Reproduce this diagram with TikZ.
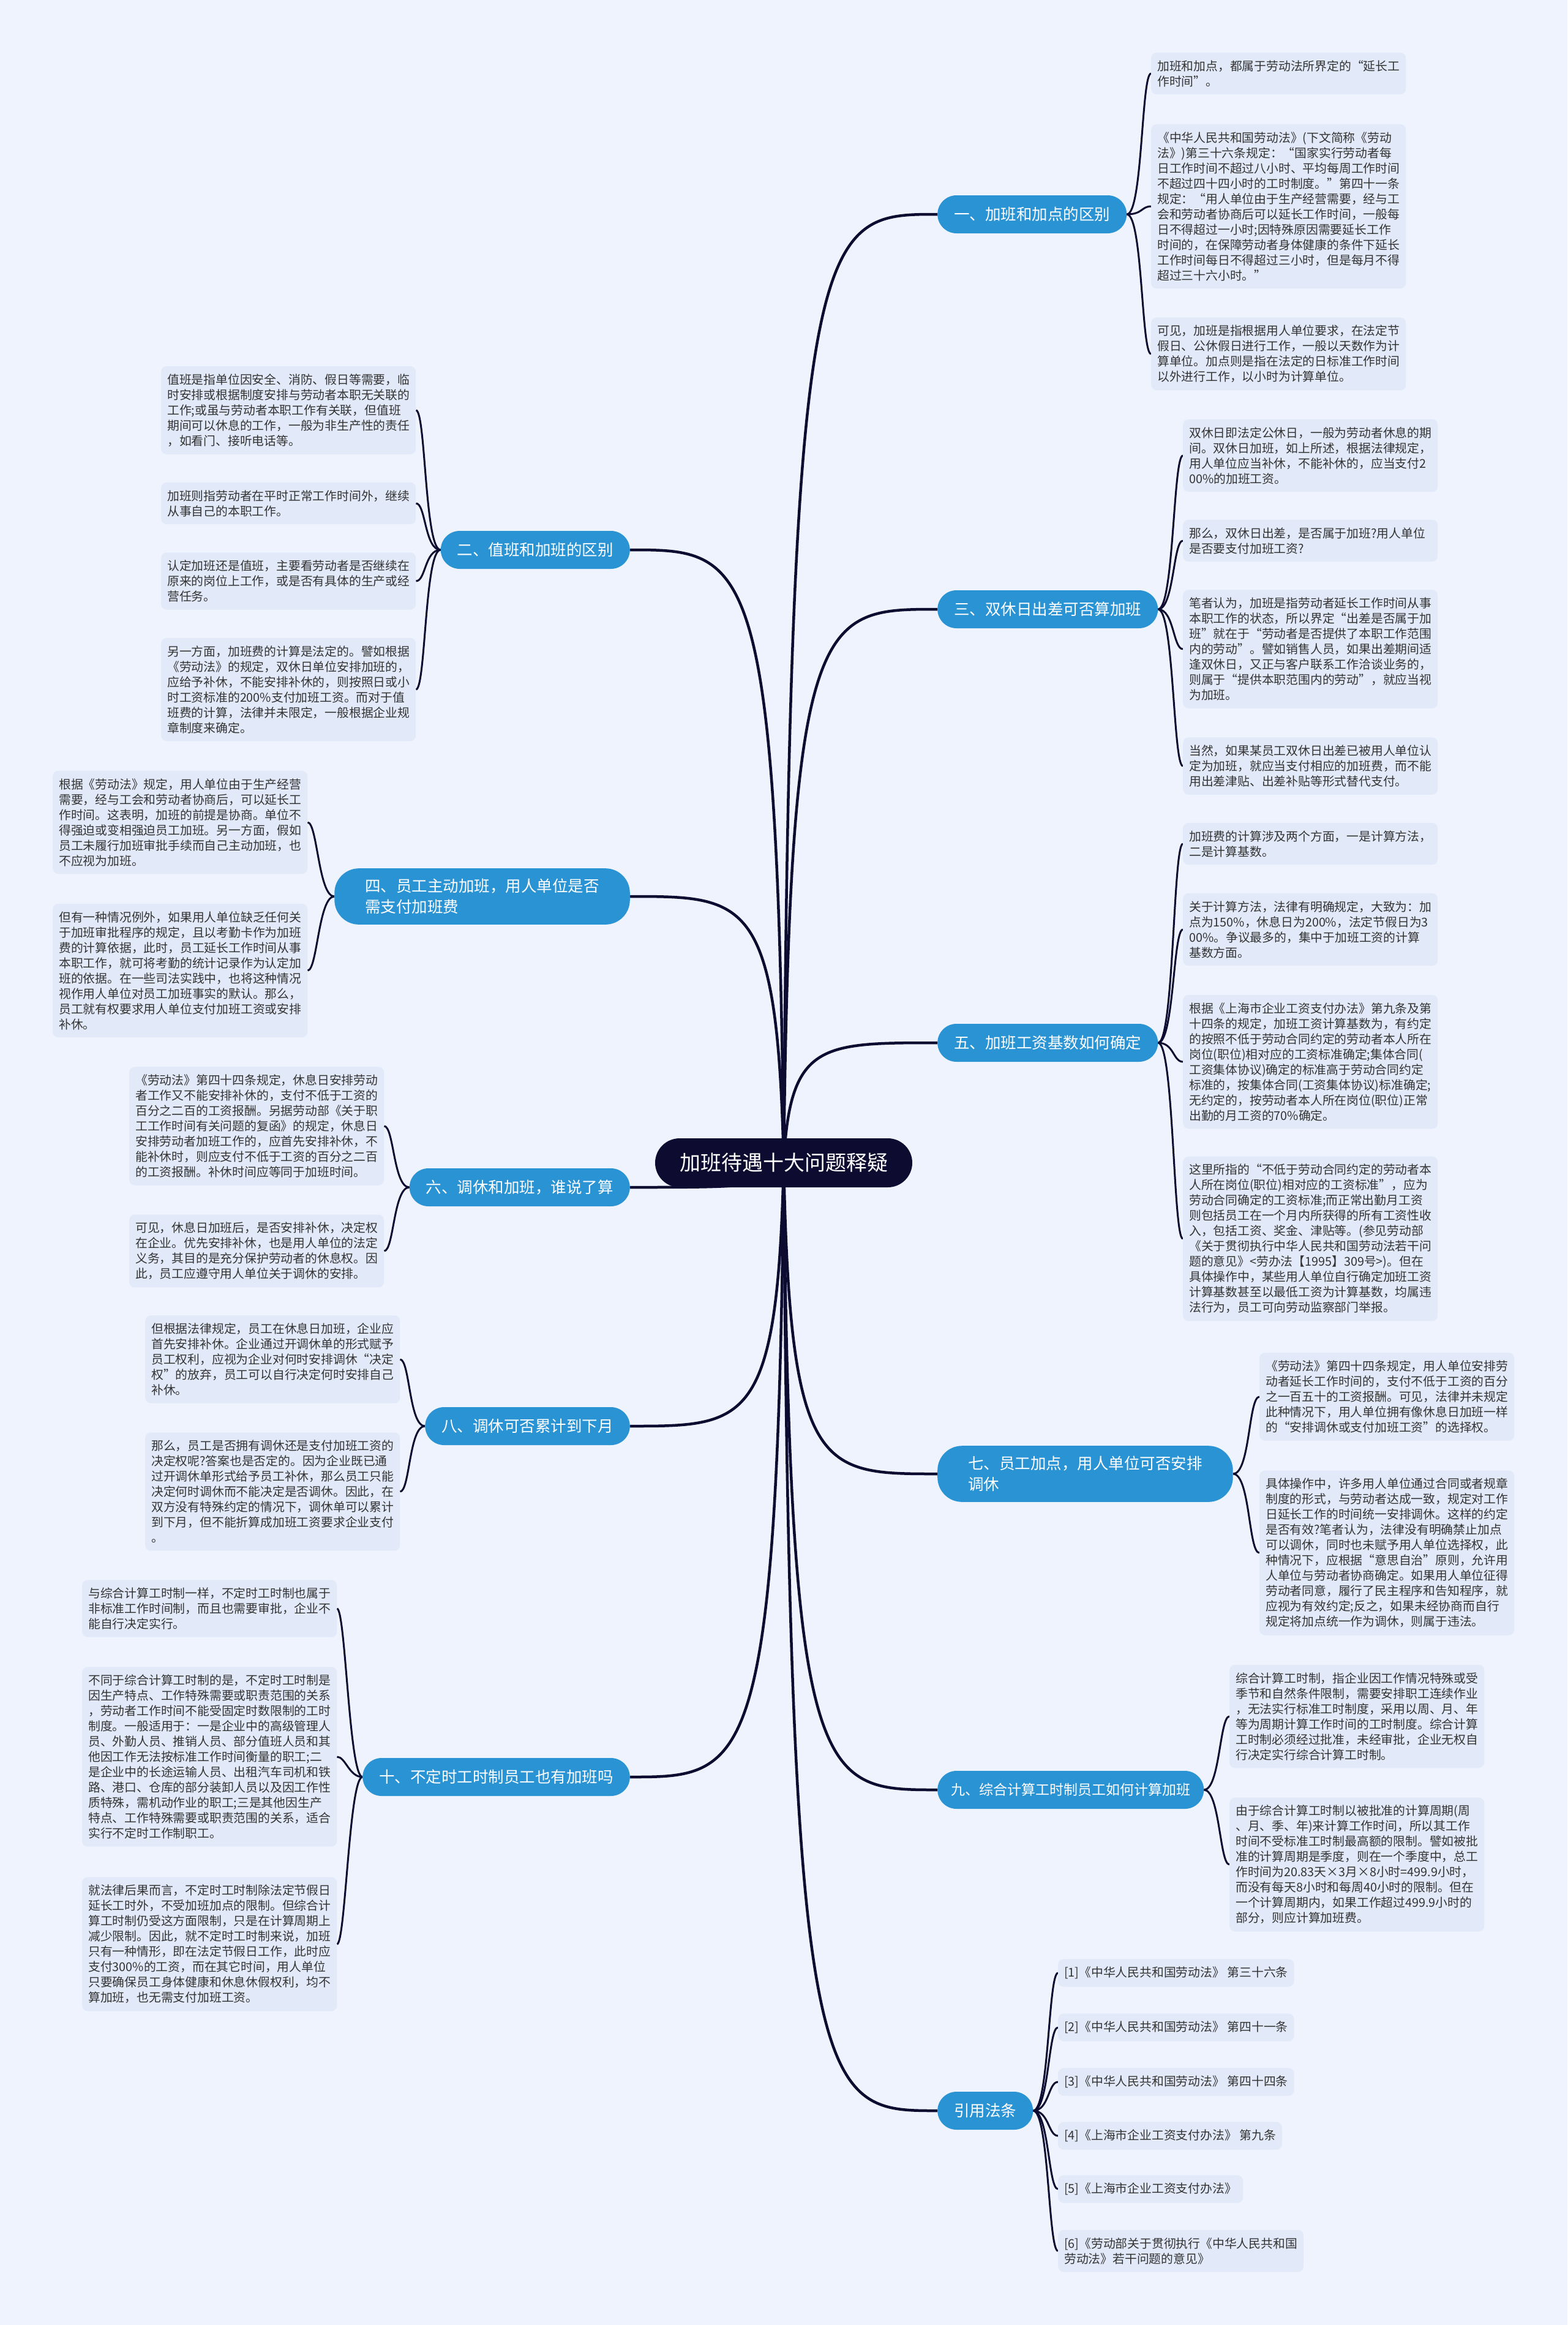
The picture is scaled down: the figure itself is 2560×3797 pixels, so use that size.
\documentclass[tikz,border=0pt]{standalone}
\usepackage{fontspec}
\newfontfamily\cjk{Noto Sans CJK SC}
\usetikzlibrary{backgrounds,calc}
\definecolor{pagebg}{HTML}{EEF3FD}
\definecolor{leafbg}{HTML}{E2EAF9}
\definecolor{branchbg}{HTML}{2A93D4}
\definecolor{hubbg}{HTML}{0E0B30}
\definecolor{linecol}{HTML}{0E0B30}
\definecolor{textcol}{HTML}{333333}
\tikzset{
  leafbase/.style={fill=leafbg, rounded corners=9pt, anchor=west, align=left,
    inner xsep=10pt, inner ysep=12.5pt, text=textcol,
    font=\cjk\fontsize{19.8}{25}\selectfont},
  leafbox/.style={leafbase, text width=396pt},
  branchbox/.style={fill=branchbg, text=white, rounded corners=31pt, align=left,
    inner xsep=27pt, inner ysep=17pt, minimum height=62pt,
    font=\cjk\fontsize{25.5}{34}\selectfont},
  twoline/.style={inner xsep=50pt, rounded corners=40pt},
  hubbox/.style={fill=hubbg, text=white, rounded corners=40pt, inner xsep=40pt,
    minimum height=80pt, font=\cjk\fontsize{34}{40}\selectfont},
  mainline/.style={draw=linecol, line width=4.5pt},
  leafline/.style={draw=linecol, line width=3pt},
}
\begin{document}
\begin{tikzpicture}[x=1pt, y=-1pt]
\useasboundingbox (0,0) rectangle (2560,3797);
% centre
\node[hubbox, at={(1280,1899)}] (hub) {加班待遇十大问题释疑};
% branches, right side
\node[branchbox, anchor=west, at={(1531,350)}] (b1) {一、加班和加点的区别};
\node[branchbox, anchor=west, at={(1531,995)}] (b3) {三、双休日出差可否算加班};
\node[branchbox, anchor=west, at={(1531,1703)}] (b5) {五、加班工资基数如何确定};
\node[branchbox, twoline, anchor=west, at={(1531,2407)}] (b7) {七、员工加点，用人单位可否安排\\调休};
\node[branchbox, anchor=west, at={(1531,2923)}, inner xsep=22pt, font=\cjk\fontsize{23}{30}\selectfont] (b9) {九、综合计算工时制员工如何计算加班};
\node[branchbox, anchor=west, at={(1531,3447)}] (bref) {引用法条};
% branches, left side
\node[branchbox, anchor=east, at={(1029,898)}] (b2) {二、值班和加班的区别};
\node[branchbox, twoline, anchor=east, at={(1029,1464)}] (b4) {四、员工主动加班，用人单位是否\\需支付加班费};
\node[branchbox, anchor=east, at={(1029,1939)}] (b6) {六、调休和加班，谁说了算};
\node[branchbox, anchor=east, at={(1029,2329)}] (b8) {八、调休可否累计到下月};
\node[branchbox, anchor=east, at={(1029,2902)}] (b10) {十、不定时工时制员工也有加班吗};

% leaves of b1
\node[leafbox, at={(1880,120)}] (l1a) {加班和加点，都属于劳动法所界定的“延长工\\作时间”。};
\node[leafbox, at={(1880,337)}] (l1b) {《中华人民共和国劳动法》(下文简称《劳动\\法》)第三十六条规定：“国家实行劳动者每\\日工作时间不超过八小时、平均每周工作时间\\不超过四十四小时的工时制度。”第四十一条\\规定：“用人单位由于生产经营需要，经与工\\会和劳动者协商后可以延长工作时间，一般每\\日不得超过一小时;因特殊原因需要延长工作\\时间的，在保障劳动者身体健康的条件下延长\\工作时间每日不得超过三小时，但是每月不得\\超过三十六小时。”};
\node[leafbox, at={(1880,578)}] (l1c) {可见，加班是指根据用人单位要求，在法定节\\假日、公休假日进行工作，一般以天数作为计\\算单位。加点则是指在法定的日标准工作时间\\以外进行工作，以小时为计算单位。};
% leaves of b2
\node[leafbox, at={(263,670)}] (l2a) {值班是指单位因安全、消防、假日等需要，临\\时安排或根据制度安排与劳动者本职无关联的\\工作;或虽与劳动者本职工作有关联，但值班\\期间可以休息的工作，一般为非生产性的责任\\，如看门、接听电话等。};
\node[leafbox, at={(263,822)}] (l2b) {加班则指劳动者在平时正常工作时间外，继续\\从事自己的本职工作。};
\node[leafbox, at={(263,949)}] (l2c) {认定加班还是值班，主要看劳动者是否继续在\\原来的岗位上工作，或是否有具体的生产或经\\营任务。};
\node[leafbox, at={(263,1126)}] (l2d) {另一方面，加班费的计算是法定的。譬如根据\\《劳动法》的规定，双休日单位安排加班的，\\应给予补休，不能安排补休的，则按照日或小\\时工资标准的200\%支付加班工资。而对于值\\班费的计算，法律并未限定，一般根据企业规\\章制度来确定。};
% leaves of b3
\node[leafbox, at={(1932,744)}] (l3a) {双休日即法定公休日，一般为劳动者休息的期\\间。双休日加班，如上所述，根据法律规定，\\用人单位应当补休，不能补休的，应当支付2\\00\%的加班工资。};
\node[leafbox, at={(1932,883)}] (l3b) {那么，双休日出差，是否属于加班?用人单位\\是否要支付加班工资?};
\node[leafbox, at={(1932,1060)}] (l3c) {笔者认为，加班是指劳动者延长工作时间从事\\本职工作的状态，所以界定“出差是否属于加\\班”就在于“劳动者是否提供了本职工作范围\\内的劳动”。譬如销售人员，如果出差期间适\\逢双休日，又正与客户联系工作洽谈业务的，\\则属于“提供本职范围内的劳动”，就应当视\\为加班。};
\node[leafbox, at={(1932,1251)}] (l3d) {当然，如果某员工双休日出差已被用人单位认\\定为加班，就应当支付相应的加班费，而不能\\用出差津贴、出差补贴等形式替代支付。};
% leaves of b4
\node[leafbox, at={(86,1343)}] (l4a) {根据《劳动法》规定，用人单位由于生产经营\\需要，经与工会和劳动者协商后，可以延长工\\作时间。这表明，加班的前提是协商。单位不\\得强迫或变相强迫员工加班。另一方面，假如\\员工未履行加班审批手续而自己主动加班，也\\不应视为加班。};
\node[leafbox, at={(86,1585)}] (l4b) {但有一种情况例外，如果用人单位缺乏任何关\\于加班审批程序的规定，且以考勤卡作为加班\\费的计算依据，此时，员工延长工作时间从事\\本职工作，就可将考勤的统计记录作为认定加\\班的依据。在一些司法实践中，也将这种情况\\视作用人单位对员工加班事实的默认。那么，\\员工就有权要求用人单位支付加班工资或安排\\补休。};
% leaves of b5
\node[leafbox, at={(1932,1378)}] (l5a) {加班费的计算涉及两个方面，一是计算方法，\\二是计算基数。};
\node[leafbox, at={(1932,1518)}] (l5b) {关于计算方法，法律有明确规定，大致为：加\\点为150\%，休息日为200\%，法定节假日为3\\00\%。争议最多的，集中于加班工资的计算\\基数方面。};
\node[leafbox, at={(1932,1734)}] (l5c) {根据《上海市企业工资支付办法》第九条及第\\十四条的规定，加班工资计算基数为，有约定\\的按照不低于劳动合同约定的劳动者本人所在\\岗位(职位)相对应的工资标准确定;集体合同(\\工资集体协议)确定的标准高于劳动合同约定\\标准的，按集体合同(工资集体协议)标准确定;\\无约定的，按劳动者本人所在岗位(职位)正常\\出勤的月工资的70\%确定。};
\node[leafbox, at={(1932,2023)}] (l5d) {这里所指的“不低于劳动合同约定的劳动者本\\人所在岗位(职位)相对应的工资标准”，应为\\劳动合同确定的工资标准;而正常出勤月工资\\则包括员工在一个月内所获得的所有工资性收\\入，包括工资、奖金、津贴等。(参见劳动部\\《关于贯彻执行中华人民共和国劳动法若干问\\题的意见》<劳办法【1995】309号>)。但在\\具体操作中，某些用人单位自行确定加班工资\\计算基数甚至以最低工资为计算基数，均属违\\法行为，员工可向劳动监察部门举报。};
% leaves of b6
\node[leafbox, at={(211,1839)}] (l6a) {《劳动法》第四十四条规定，休息日安排劳动\\者工作又不能安排补休的，支付不低于工资的\\百分之二百的工资报酬。另据劳动部《关于职\\工工作时间有关问题的复函》的规定，休息日\\安排劳动者加班工作的，应首先安排补休，不\\能补休时，则应支付不低于工资的百分之二百\\的工资报酬。补休时间应等同于加班时间。};
\node[leafbox, at={(211,2043)}] (l6b) {可见，休息日加班后，是否安排补休，决定权\\在企业。优先安排补休，也是用人单位的法定\\义务，其目的是充分保护劳动者的休息权。因\\此，员工应遵守用人单位关于调休的安排。};
% leaves of b7
\node[leafbox, at={(2057,2281)}] (l7a) {《劳动法》第四十四条规定，用人单位安排劳\\动者延长工作时间的，支付不低于工资的百分\\之一百五十的工资报酬。可见，法律并未规定\\此种情况下，用人单位拥有像休息日加班一样\\的“安排调休或支付加班工资”的选择权。};
\node[leafbox, at={(2057,2536)}] (l7b) {具体操作中，许多用人单位通过合同或者规章\\制度的形式，与劳动者达成一致，规定对工作\\日延长工作的时间统一安排调休。这样的约定\\是否有效?笔者认为，法律没有明确禁止加点\\可以调休，同时也未赋予用人单位选择权，此\\种情况下，应根据“意思自治”原则，允许用\\人单位与劳动者协商确定。如果用人单位征得\\劳动者同意，履行了民主程序和告知程序，就\\应视为有效约定;反之，如果未经协商而自行\\规定将加点统一作为调休，则属于违法。};
% leaves of b8
\node[leafbox, at={(237,2220)}] (l8a) {但根据法律规定，员工在休息日加班，企业应\\首先安排补休。企业通过开调休单的形式赋予\\员工权利，应视为企业对何时安排调休“决定\\权”的放弃，员工可以自行决定何时安排自己\\补休。};
\node[leafbox, at={(237,2436)}] (l8b) {那么，员工是否拥有调休还是支付加班工资的\\决定权呢?答案也是否定的。因为企业既已通\\过开调休单形式给予员工补休，那么员工只能\\决定何时调休而不能决定是否调休。因此，在\\双方没有特殊约定的情况下，调休单可以累计\\到下月，但不能折算成加班工资要求企业支付\\。};
% leaves of b9
\node[leafbox, at={(2008,2803)}] (l9a) {综合计算工时制，指企业因工作情况特殊或受\\季节和自然条件限制，需要安排职工连续作业\\，无法实行标准工时制度，采用以周、月、年\\等为周期计算工作时间的工时制度。综合计算\\工时制必须经过批准，未经审批，企业无权自\\行决定实行综合计算工时制。};
\node[leafbox, at={(2008,3045)}] (l9b) {由于综合计算工时制以被批准的计算周期(周\\、月、季、年)来计算工作时间，所以其工作\\时间不受标准工时制最高额的限制。譬如被批\\准的计算周期是季度，则在一个季度中，总工\\作时间为20.83天×3月×8小时=499.9小时，\\而没有每天8小时和每周40小时的限制。但在\\一个计算周期内，如果工作超过499.9小时的\\部分，则应计算加班费。};
% leaves of b10
\node[leafbox, at={(134,2627)}] (l10a) {与综合计算工时制一样，不定时工时制也属于\\非标准工作时间制，而且也需要审批，企业不\\能自行决定实行。};
\node[leafbox, at={(134,2869)}] (l10b) {不同于综合计算工时制的是，不定时工时制是\\因生产特点、工作特殊需要或职责范围的关系\\，劳动者工作时间不能受固定时数限制的工时\\制度。一般适用于：一是企业中的高级管理人\\员、外勤人员、推销人员、部分值班人员和其\\他因工作无法按标准工作时间衡量的职工;二\\是企业中的长途运输人员、出租汽车司机和铁\\路、港口、仓库的部分装卸人员以及因工作性\\质特殊，需机动作业的职工;三是其他因生产\\特点、工作特殊需要或职责范围的关系，适合\\实行不定时工作制职工。};
\node[leafbox, at={(134,3175)}] (l10c) {就法律后果而言，不定时工时制除法定节假日\\延长工时外，不受加班加点的限制。但综合计\\算工时制仍受这方面限制，只是在计算周期上\\减少限制。因此，就不定时工时制来说，加班\\只有一种情形，即在法定节假日工作，此时应\\支付300\%的工资，而在其它时间，用人单位\\只要确保员工身体健康和休息休假权利，均不\\算加班，也无需支付加班工资。};
% references
\node[leafbase, at={(1728,3222)}] (r1) {[1]《中华人民共和国劳动法》 第三十六条};
\node[leafbase, at={(1728,3311)}] (r2) {[2]《中华人民共和国劳动法》 第四十一条};
\node[leafbase, at={(1728,3400)}] (r3) {[3]《中华人民共和国劳动法》 第四十四条};
\node[leafbase, at={(1728,3488)}] (r4) {[4]《上海市企业工资支付办法》 第九条};
\node[leafbase, at={(1728,3575)}] (r5) {[5]《上海市企业工资支付办法》};
\node[leafbase, at={(1728,3676)}] (r6) {[6]《劳动部关于贯彻执行《中华人民共和国\\劳动法》若干问题的意见》};

\begin{pgfonlayer}{background}
\fill[pagebg] (0,0) rectangle (2560,3797);
% centre to branches
\foreach \b in {b1,b3,b5,b7,b9,bref}
  \draw[mainline] (hub.center) .. controls ($(hub.center |- \b.west)+(10,0)$) and ($(hub.center |- \b.west)+(60,0)$) .. (\b.west);
\foreach \b in {b2,b4,b6,b8,b10}
  \draw[mainline] (hub.center) .. controls ($(hub.center |- \b.east)+(-10,0)$) and ($(hub.center |- \b.east)+(-60,0)$) .. (\b.east);
% branches to leaves, right
\foreach \l in {l1a,l1b,l1c}
  \draw[leafline] (b1.east) .. controls +(26,0) and +(-16,0) .. (\l.west);
\foreach \l in {l3a,l3b,l3c,l3d}
  \draw[leafline] (b3.east) .. controls +(26,0) and +(-16,0) .. (\l.west);
\foreach \l in {l5a,l5b,l5c,l5d}
  \draw[leafline] (b5.east) .. controls +(26,0) and +(-16,0) .. (\l.west);
\foreach \l in {l7a,l7b}
  \draw[leafline] (b7.east) .. controls +(28,0) and +(-18,0) .. (\l.west);
\foreach \l in {l9a,l9b}
  \draw[leafline] (b9.east) .. controls +(26,0) and +(-16,0) .. (\l.west);
\foreach \l in {r1,r2,r3,r4,r5,r6}
  \draw[leafline] (bref.east) .. controls +(26,0) and +(-16,0) .. (\l.west);
% branches to leaves, left
\foreach \l in {l2a,l2b,l2c,l2d}
  \draw[leafline] (b2.west) .. controls +(-26,0) and +(16,0) .. (\l.east);
\foreach \l in {l4a,l4b}
  \draw[leafline] (b4.west) .. controls +(-26,0) and +(16,0) .. (\l.east);
\foreach \l in {l6a,l6b}
  \draw[leafline] (b6.west) .. controls +(-26,0) and +(16,0) .. (\l.east);
\foreach \l in {l8a,l8b}
  \draw[leafline] (b8.west) .. controls +(-26,0) and +(16,0) .. (\l.east);
\foreach \l in {l10a,l10b,l10c}
  \draw[leafline] (b10.west) .. controls +(-22,0) and +(14,0) .. (\l.east);
\end{pgfonlayer}
\end{tikzpicture}
\end{document}
